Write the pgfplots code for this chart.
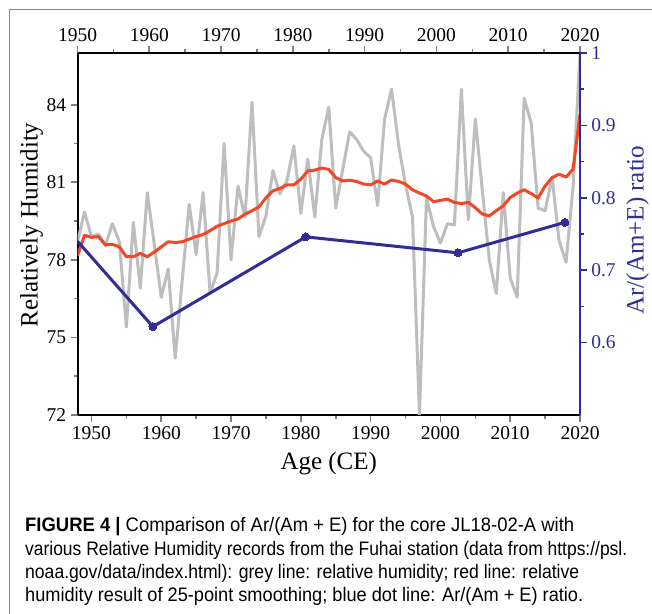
\documentclass[border=0pt]{standalone}
\usepackage{fontspec}
\setmainfont{Liberation Serif}
\newfontfamily\capfont{Liberation Sans}
\usepackage{graphicx}
\usepackage{pgfplots}
\pgfplotsset{compat=1.18}
\definecolor{rhgray}{RGB}{190,190,190}
\definecolor{rhred}{RGB}{240,72,38}
\definecolor{arblue}{RGB}{50,45,150}
\definecolor{framegray}{RGB}{135,135,135}
\begin{document}
\begin{tikzpicture}[x=1bp,y=1bp]
\useasboundingbox[fill=white] (0,0) rectangle (652,614);
\draw[framegray, line width=1bp] (9.5,0) -- (9.5,604.5) -- (652,604.5);
\pgfplotsset{
  every tick label/.append style={font=\fontsize{19.5bp}{22bp}\selectfont},
  label style={font=\fontsize{25bp}{28bp}\selectfont},
  /pgf/number format/assume math mode=true,
  tick align=outside,
  major tick length=7bp,
  minor tick length=4bp,
  every axis/.append style={line width=2bp},
  every tick/.append style={line width=1.6bp},
}
\begin{axis}[
  at={(77.5bp,199bp)}, anchor=south west,
  scale only axis, width=502.5bp, height=362bp,
  xmin=1948, xmax=2020, ymin=72, ymax=86,
  axis x line*=bottom, axis y line*=left,
  xtick={1950,1960,...,2020},
  minor xtick={1955,1965,...,2015},
  ytick={72,75,78,81,84},
  minor ytick={73.5,76.5,79.5,82.5},
  /pgf/number format/1000 sep={},
  xlabel={Age (CE)},
  ylabel={Relatively Humidity},
  xlabel style={at={(axis description cs:0.5,-0.135)}, anchor=center},
  ylabel style={at={(axis description cs:-0.0912,0.525)}, anchor=center},
  clip=true,
]
\addplot[rhgray, line width=3bp, line join=round] coordinates {
(1948,78.7) (1949,79.85) (1950,78.9) (1951,79.0) (1952,78.55) (1953,79.4)
(1954,78.7) (1955,75.4) (1956,79.45) (1957,76.9) (1958,80.6) (1959,78.6)
(1960,76.55) (1961,77.65) (1962,74.2) (1963,77.2) (1964,80.15) (1965,78.2)
(1966,80.6) (1967,76.7) (1968,77.5) (1969,82.5) (1970,78.0) (1971,80.85)
(1972,79.65) (1973,84.1) (1974,78.9) (1975,79.7) (1976,81.45) (1977,80.55)
(1978,81.05) (1979,82.4) (1980,79.8) (1981,81.9) (1982,79.65) (1983,82.65)
(1984,83.9) (1985,80.0) (1986,81.5) (1987,82.95) (1988,82.65) (1989,82.2)
(1990,81.95) (1991,80.1) (1992,83.45) (1993,84.6) (1994,82.45) (1995,80.9)
(1996,79.65) (1997,72.0) (1998,80.4) (1999,79.3) (2000,78.65) (2001,79.4)
(2002,79.35) (2003,84.6) (2004,79.55) (2005,83.45) (2006,80.7) (2007,78.0)
(2008,76.7) (2009,80.6) (2010,77.3) (2011,76.55) (2012,84.25) (2013,83.3)
(2014,80.0) (2015,79.9) (2016,81.2) (2017,78.75) (2018,77.9) (2019,80.8)
(2020,86.0)
};
\addplot[rhred, line width=3bp, line join=round] coordinates {
(1948,78.16) (1949,78.95) (1950,78.87) (1951,78.9) (1952,78.58) (1953,78.6)
(1954,78.5) (1955,78.12) (1956,78.12) (1957,78.25) (1958,78.12) (1959,78.3)
(1960,78.5) (1961,78.7) (1962,78.67) (1963,78.7) (1964,78.8) (1965,78.9)
(1966,78.98) (1967,79.13) (1968,79.3) (1969,79.4) (1970,79.5) (1971,79.58)
(1972,79.77) (1973,79.9) (1974,80.05) (1975,80.4) (1976,80.67) (1977,80.76)
(1978,80.9) (1979,80.9) (1980,81.12) (1981,81.44) (1982,81.47) (1983,81.55)
(1984,81.5) (1985,81.18) (1986,81.05) (1987,81.08) (1988,81.03) (1989,80.93)
(1990,80.9) (1991,81.05) (1992,80.93) (1993,81.09) (1994,81.03) (1995,80.93)
(1996,80.71) (1997,80.58) (1998,80.47) (1999,80.25) (2000,80.3) (2001,80.35)
(2002,80.22) (2003,80.18) (2004,80.22) (2005,80.02) (2006,79.77) (2007,79.7)
(2008,79.9) (2009,80.09) (2010,80.41) (2011,80.58) (2012,80.71) (2013,80.56)
(2014,80.39) (2015,80.86) (2016,81.18) (2017,81.31) (2018,81.2) (2019,81.5)
(2020,83.62)
};
\end{axis}
\begin{axis}[
  at={(77.5bp,199bp)}, anchor=south west,
  scale only axis, width=502.5bp, height=362bp,
  xmin=1950, xmax=2020, ymin=0.5, ymax=1,
  axis x line*=top, axis y line*=right,
  xtick={1950,1960,...,2020},
  minor xtick={1955,1965,...,2015},
  ytick={0.6,0.7,0.8,0.9,1},
  yticklabels={0.6,0.7,0.8,0.9,1},
  minor ytick={0.65,0.75,0.85,0.95},
  /pgf/number format/1000 sep={},
  y axis line style={arblue},
  ytick style={arblue},
  yticklabel style={text=arblue},
  ylabel={Ar/(Am+E) ratio},
  ylabel style={at={(axis description cs:1.1144,0.511)}, anchor=center, text=arblue},
]
\addplot[arblue, line width=3bp, mark=*, mark size=4bp, mark indices={2,3,4,5},
  mark options={arblue, line width=0bp}] coordinates {
(1950,0.740) (1960.5,0.622) (1981.8,0.746) (2003.0,0.724) (2017.9,0.766)
};
\end{axis}
\begin{scope}[every node/.style={anchor=base west, inner sep=0pt, font=\capfont\fontsize{19.5bp}{23bp}\selectfont}]
\node at (25,82) {\resizebox{549bp}{\height}{\textbf{FIGURE 4 |} Comparison of Ar/(Am + E) for the core JL18-02-A with}};
\node at (25,58) {\resizebox{602bp}{\height}{various Relative Humidity records from the Fuhai station (data from https://psl.}};
\node at (25,35) {\resizebox{554bp}{\height}{noaa.gov/data/index.html): grey line: relative humidity; red line: relative}};
\node at (25,12) {\resizebox{558bp}{\height}{humidity result of 25-point smoothing; blue dot line: Ar/(Am + E) ratio.}};
\end{scope}
\end{tikzpicture}
\end{document}
